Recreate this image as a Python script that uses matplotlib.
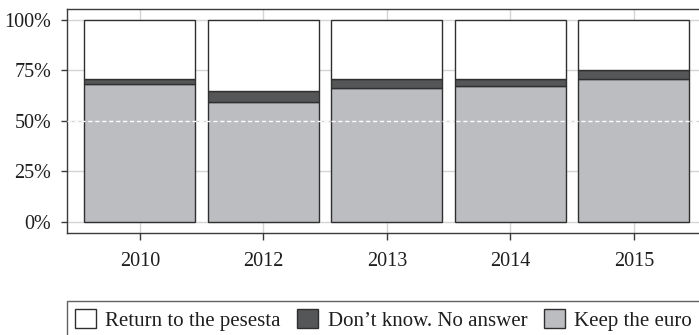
import matplotlib
matplotlib.use("Agg")
import matplotlib.pyplot as plt
from matplotlib.patches import Patch
import numpy as np

years = ["2010", "2012", "2013", "2014", "2015"]
keep_euro = [68.3, 59.4, 66.3, 67.4, 70.7]
dont_know = [2.4, 5.2, 4.7, 3.6, 4.6]
return_peseta = [100 - k - d for k, d in zip(keep_euro, dont_know)]
y_ticks = [0, 25, 50, 75, 100]
y_labels = ["0%", "25%", "50%", "75%", "100%"]
series_names = ["Return to the pesesta", "Don\u2019t know. No answer", "Keep the euro"]

plt.rcParams['font.family'] = ['Liberation Serif', 'DejaVu Serif']

c_keep = "#bcbdc1"
c_dk = "#555657"
c_ret = "#ffffff"
edge = "#2f2f2f"

fig = plt.figure(figsize=(6.99, 3.35), dpi=100)
ax = fig.add_axes([66.7/699, 102.3/335, (707-66.7)/699, (232.7-9)/335])

x = np.arange(len(years))
w = 0.9
ax.bar(x, keep_euro, width=w, color=c_keep, edgecolor=edge, linewidth=1, zorder=2)
ax.bar(x, dont_know, width=w, bottom=keep_euro, color=c_dk, edgecolor=edge, linewidth=1, zorder=2)
bot2 = [k + d for k, d in zip(keep_euro, dont_know)]
ax.bar(x, return_peseta, width=w, bottom=bot2, color=c_ret, edgecolor=edge, linewidth=1, zorder=2)

ax.axhline(50, color="white", linewidth=1, dashes=(3, 2), zorder=3)

ax.set_xlim(-0.593, 4.593)
ax.set_ylim(-5.3, 105.4)
ax.set_xticks(x)
ax.set_xticklabels(years)
ax.set_yticks(y_ticks)
ax.set_yticklabels(y_labels)
ax.grid(True, color="#d4d4d4", linewidth=1, zorder=0)
ax.set_axisbelow(True)
for s in ax.spines.values():
    s.set_color("#3a3a3a")
    s.set_linewidth(1)
ax.tick_params(axis="both", colors="#3a3a3a", labelcolor="#1e1e1e", labelsize=14.5, width=1)
ax.tick_params(axis="x", pad=9, length=5)
ax.tick_params(axis="y", pad=7, length=4)

handles = [Patch(facecolor=c_ret, edgecolor=edge, linewidth=1),
           Patch(facecolor=c_dk, edgecolor=edge, linewidth=1),
           Patch(facecolor=c_keep, edgecolor=edge, linewidth=1)]
leg = fig.legend(handles, series_names, loc="upper left", bbox_to_anchor=(66.7/699, 1 - 301/335),
                 ncol=3, frameon=True, fancybox=False, fontsize=15, handlelength=1.0, handleheight=1.0,
                 handletextpad=0.45, columnspacing=0.8, borderpad=0.4, borderaxespad=0)
for t in leg.get_texts():
    t.set_color("#1e1e1e")
leg.get_frame().set_edgecolor("#3a3a3a")
leg.get_frame().set_linewidth(1)

fig.savefig("out.png", dpi=100)
